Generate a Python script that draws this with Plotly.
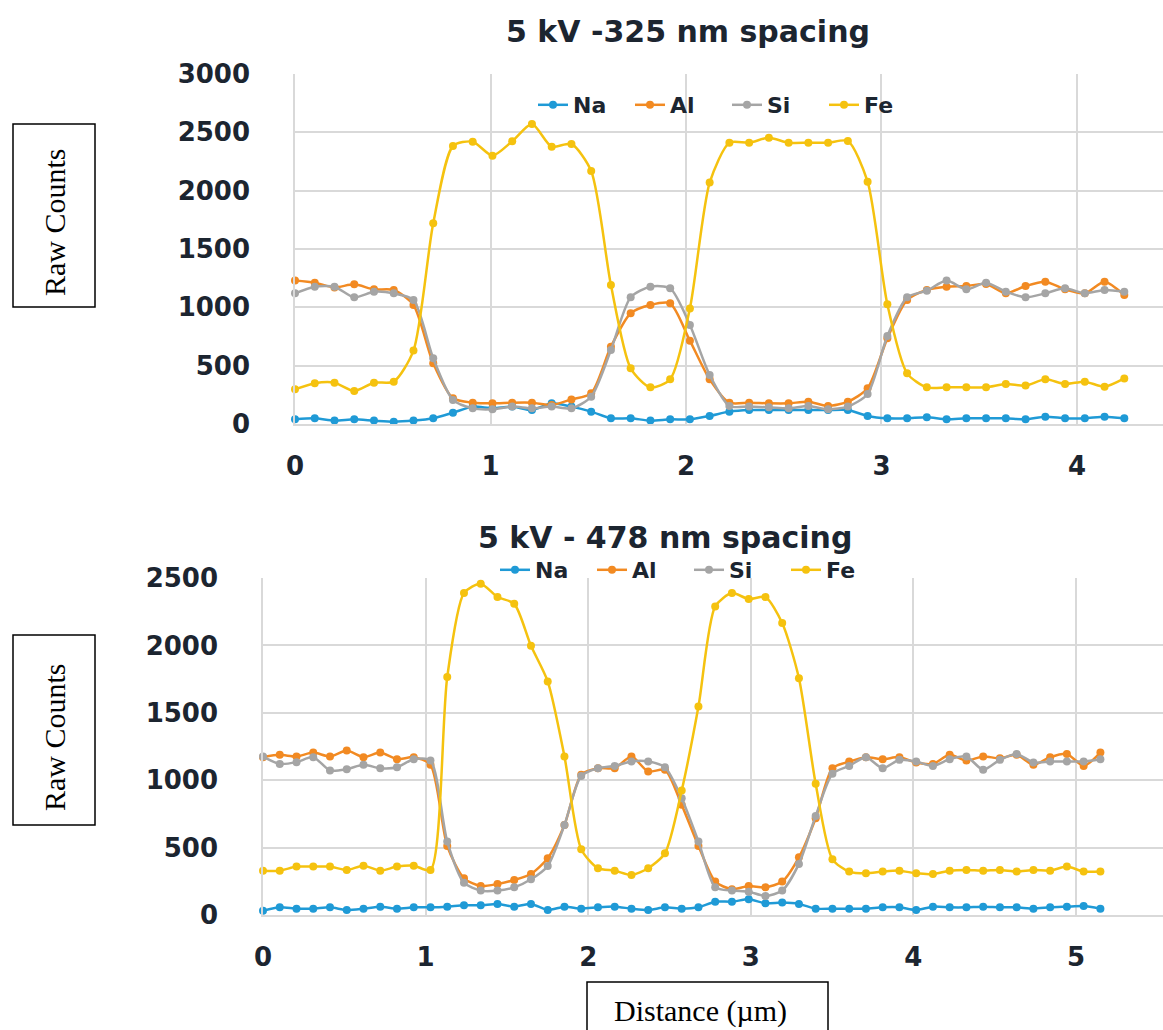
import plotly.graph_objects as go

# ---------------- data: top panel (5 kV - 325 nm spacing) ----------------
x_top = [0, 0.101, 0.202, 0.303, 0.404, 0.505, 0.606, 0.707, 0.808, 0.909,
         1.010, 1.111, 1.212, 1.313, 1.414, 1.515, 1.616, 1.717, 1.818, 1.919,
         2.020, 2.121, 2.222, 2.323, 2.424, 2.525, 2.626, 2.727, 2.828, 2.929,
         3.030, 3.131, 3.232, 3.333, 3.434, 3.535, 3.636, 3.737, 3.838, 3.939,
         4.040, 4.141, 4.242]
na_top = [40, 49, 29, 40, 29, 20, 29, 49, 97, 149,
          134, 149, 120, 177, 149, 106, 49, 49, 29, 40,
          40, 69, 106, 120, 120, 120, 120, 120, 120, 69,
          49, 49, 57, 40, 49, 49, 49, 40, 63, 49,
          49, 63, 49]
al_top = [1229, 1211, 1171, 1197, 1154, 1149, 1020, 520, 220, 183,
          177, 183, 183, 163, 211, 263, 663, 949, 1020, 1034,
          714, 383, 183, 183, 177, 177, 191, 154, 191, 306,
          734, 1063, 1149, 1177, 1183, 1200, 1120, 1183, 1220, 1154,
          1120, 1220, 1106]
si_top = [1120, 1177, 1177, 1086, 1134, 1120, 1063, 563, 206, 134,
          126, 149, 134, 149, 134, 234, 634, 1086, 1177, 1163,
          849, 420, 154, 149, 143, 134, 154, 126, 149, 257,
          754, 1086, 1143, 1229, 1154, 1211, 1134, 1086, 1120, 1163,
          1120, 1149, 1134]
fe_top = [297, 349, 354, 283, 354, 363, 629, 1720, 2383, 2420,
          2300, 2423, 2571, 2377, 2400, 2169, 1191, 477, 314, 383,
          991, 2069, 2411, 2411, 2454, 2411, 2411, 2411, 2426, 2077,
          1026, 434, 314, 314, 314, 314, 343, 329, 383, 343,
          363, 320, 391]

# ---------------- data: bottom panel (5 kV - 478 nm spacing) ----------------
x_bot = [0, 0.103, 0.206, 0.309, 0.412, 0.515, 0.618, 0.721, 0.824, 0.927,
         1.030, 1.133, 1.236, 1.339, 1.442, 1.545, 1.648, 1.751, 1.854, 1.957,
         2.060, 2.163, 2.266, 2.369, 2.472, 2.575, 2.678, 2.781, 2.884, 2.987,
         3.090, 3.193, 3.296, 3.399, 3.502, 3.605, 3.708, 3.811, 3.914, 4.017,
         4.120, 4.223, 4.326, 4.429, 4.532, 4.635, 4.738, 4.841, 4.944, 5.047,
         5.150]
na_bot = [32, 57, 47, 47, 57, 37, 47, 62, 47, 57,
          57, 62, 72, 72, 82, 62, 82, 37, 62, 47,
          57, 62, 47, 37, 57, 47, 57, 99, 99, 116,
          87, 92, 82, 47, 47, 47, 47, 57, 57, 37,
          62, 57, 57, 62, 57, 57, 47, 57, 62, 67,
          47]
al_bot = [1171, 1188, 1176, 1205, 1176, 1220, 1171, 1205, 1156, 1171,
          1114, 512, 272, 215, 230, 260, 304, 421, 668, 1040,
          1089, 1089, 1176, 1064, 1077, 817, 512, 248, 191, 215,
          205, 248, 428, 718, 1089, 1138, 1171, 1156, 1171, 1131,
          1121, 1188, 1146, 1176, 1163, 1188, 1114, 1171, 1195, 1106,
          1205]
si_bot = [1176, 1121, 1134, 1171, 1072, 1082, 1114, 1089, 1096, 1156,
          1146, 545, 240, 181, 181, 205, 265, 364, 668, 1032,
          1089, 1106, 1139, 1139, 1096, 866, 545, 205, 181, 173,
          141, 181, 379, 735, 1047, 1106, 1171, 1089, 1151, 1139,
          1106, 1156, 1176, 1077, 1151, 1195, 1131, 1139, 1139, 1139,
          1156]
fe_bot = [329, 329, 359, 359, 359, 334, 366, 329, 359, 366,
          334, 1765, 2388, 2458, 2359, 2309, 1997, 1733, 1176, 488,
          347, 329, 297, 347, 458, 923, 1547, 2289, 2388, 2344,
          2359, 2166, 1757, 973, 413, 322, 309, 322, 329, 309,
          304, 329, 334, 329, 334, 322, 334, 329, 359, 322,
          322]

series_names = ["Na", "Al", "Si", "Fe"]
colors = ["#1f9ad6", "#f28a22", "#a5a5a5", "#f5c20f"]
top_y = [na_top, al_top, si_top, fe_top]
bot_y = [na_bot, al_bot, si_bot, fe_bot]

W, H = 1163, 1030
def px(v): return v / W
def py(v): return 1 - v / H

TXT = "#1c2530"
TICK_FONT = dict(family="DejaVu Sans", size=26, color=TXT, weight="bold")
SERIF = dict(family="Liberation Serif", size=30, color="#000000")
LEG_FONT = dict(family="DejaVu Sans", size=22, color=TXT, weight="bold")

fig = go.Figure()
for name, c, ys in zip(series_names, colors, top_y):
    fig.add_trace(go.Scatter(
        x=x_top, y=ys, name=name, mode="lines+markers",
        line=dict(color=c, width=2.5, shape="spline", smoothing=0.7),
        marker=dict(color=c, size=8), cliponaxis=False,
        xaxis="x", yaxis="y", legend="legend"))
for name, c, ys in zip(series_names, colors, bot_y):
    fig.add_trace(go.Scatter(
        x=x_bot, y=ys, name=name, mode="lines+markers",
        line=dict(color=c, width=2.5, shape="spline", smoothing=0.7),
        marker=dict(color=c, size=8), cliponaxis=False,
        xaxis="x2", yaxis="y2", legend="legend2"))

grid = "#d9d9d9"
common_x = dict(showgrid=True, gridcolor=grid, gridwidth=1.5, zeroline=False,
                showline=True, linecolor=grid, linewidth=1.5,
                ticks="outside", ticklen=18, tickcolor="rgba(0,0,0,0)",
                tickfont=TICK_FONT, dtick=1, tick0=0)
common_y = dict(showgrid=True, gridcolor=grid, gridwidth=1.5, zeroline=False,
                showline=True, linecolor=grid, linewidth=1.5,
                ticks="outside", ticklen=38, tickcolor="rgba(0,0,0,0)",
                tickfont=TICK_FONT)

fig.update_layout(
    width=W, height=H, margin=dict(l=0, r=0, t=0, b=0, autoexpand=False),
    paper_bgcolor="white", plot_bgcolor="white",
    xaxis=dict(common_x, domain=[px(295), 1.0], range=[0, 4.44], anchor="y"),
    yaxis=dict(common_y, domain=[py(424), py(74)], range=[0, 3000], dtick=500, anchor="x"),
    xaxis2=dict(common_x, domain=[px(263), 1.0], range=[0, 5.535], anchor="y2"),
    yaxis2=dict(common_y, domain=[py(915), py(578)], range=[0, 2500], dtick=500, anchor="x2"),
    legend=dict(orientation="h", x=px(727), xanchor="center", y=py(105), yanchor="middle",
                font=LEG_FONT, bgcolor="rgba(0,0,0,0)", itemwidth=30,
                entrywidth=52, entrywidthmode="pixels"),
    legend2=dict(orientation="h", x=px(689), xanchor="center", y=py(570), yanchor="middle",
                 font=LEG_FONT, bgcolor="rgba(0,0,0,0)", itemwidth=30,
                 entrywidth=52, entrywidthmode="pixels"),
    showlegend=True,
)

annotations = [
    dict(text="5 kV -325 nm spacing", x=px(688), y=py(32), xref="paper", yref="paper",
         xanchor="center", yanchor="middle", showarrow=False,
         font=dict(family="DejaVu Sans", size=30, color=TXT, weight="bold")),
    dict(text="5 kV - 478 nm spacing", x=px(665), y=py(537), xref="paper", yref="paper",
         xanchor="center", yanchor="middle", showarrow=False,
         font=dict(family="DejaVu Sans", size=30, color=TXT, weight="bold")),
    dict(text="Raw Counts", x=px(54), y=py(222), xref="paper", yref="paper",
         xanchor="center", yanchor="middle", showarrow=False, textangle=-90, font=SERIF),
    dict(text="Raw Counts", x=px(54), y=py(737), xref="paper", yref="paper",
         xanchor="center", yanchor="middle", showarrow=False, textangle=-90, font=SERIF),
    dict(text="Distance (µm)", x=px(700), y=py(1011), xref="paper", yref="paper",
         xanchor="center", yanchor="middle", showarrow=False, font=SERIF),
]
fig.update_layout(annotations=annotations)

box = dict(type="rect", xref="paper", yref="paper", line=dict(color="black", width=1.5),
           fillcolor="rgba(0,0,0,0)")
fig.update_layout(shapes=[
    dict(box, x0=px(13), x1=px(95), y0=py(307), y1=py(124)),
    dict(box, x0=px(13), x1=px(95), y0=py(825), y1=py(635)),
    dict(box, x0=px(587), x1=px(828), y0=py(1040), y1=py(982)),
])

fig.write_html("out.html")
